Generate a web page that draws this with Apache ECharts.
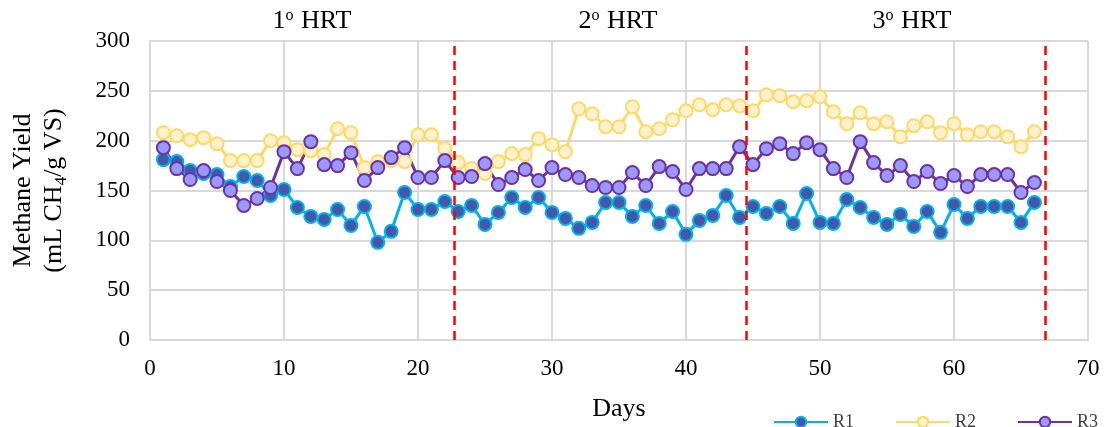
<!DOCTYPE html>
<html>
<head>
    <meta charset="utf-8">
    <title></title>
    <style>
        body{ margin: 0; background: #fff; }
        #chart{ width: 1108px; height: 427px; }
    </style>
    <script src="https://cdn.jsdelivr.net/npm/echarts@6/dist/echarts.min.js"></script>
</head>
<body>
<div id="chart"></div>
<script>
    // days 1..66
    var days = [];
    for (var d = 1; d <= 66; d++) days.push(d);

    var r1 = [181,179,170,167,166,154,164,160,145,151,133,124,121,131,115,134,98,109,148,131,
              131,139,129,135,116,128,143,133,143,128,122,112,118,138,138,124,135,117,129,106,
              120,125,145,123,134,127,134,117,147,118,117,141,133,123,116,126,114,129,108,136,
              122,134,134,134,118,138];
    var r2 = [208,205,201,203,197,180,180,180,200,198,191,190,186,212,208,173,179,180,179,206,
              206,192,178,172,167,179,187,186,202,196,189,232,227,214,214,234,209,212,221,230,
              236,231,236,235,230,246,245,239,240,244,229,217,228,217,219,204,215,219,208,217,
              206,209,209,204,194,209];
    var r3 = [193,172,161,170,159,150,135,142,153,189,172,199,176,175,188,160,173,183,193,163,
              163,180,163,164,177,156,163,171,160,173,166,163,155,153,153,168,155,174,169,151,
              172,172,172,194,176,192,197,187,198,191,172,163,199,178,165,175,159,169,157,165,
              154,166,166,166,148,158];

    var hrtLines = [22.7, 44.5, 66.8];
    var hrtNames = ['1', '2', '3'];

    var font = 'Liberation Serif, Times New Roman, serif';

    function pairs(vals){
        return vals.map(function (v, i) { return [days[i], v]; });
    }

    function mkSeries(name, vals, lineColor, fillColor){
        return {
            name: name,
            type: 'line',
            data: pairs(vals),
            symbol: 'circle',
            symbolSize: 13,
            lineStyle: { color: lineColor, width: 3 },
            itemStyle: { color: fillColor, borderColor: lineColor, borderWidth: 2 },
            emphasis: { disabled: true },
            animation: false
        };
    }

    var series = [
        mkSeries('R1', r1, '#00B0F0', '#4358A8'),
        mkSeries('R2', r2, '#FFD966', '#FFF2CC'),
        mkSeries('R3', r3, '#7030A0', '#9999FF')
    ];
    series[2].markLine = {
        silent: true,
        symbol: 'none',
        label: { show: false },
        lineStyle: { color: '#FF0000', type: [9, 6], width: 2.5 },
        data: hrtLines.map(function (x) { return { xAxis: x }; })
    };

    var hrtLabelX = [312, 618, 912];
    var graphics = hrtNames.map(function (n, i) {
        return {
            type: 'text',
            x: hrtLabelX[i],
            y: 21,
            style: {
                text: n + '{s|o} HRT',
                font: '26px ' + font,
                fill: '#000',
                align: 'center',
                verticalAlign: 'middle',
                rich: { s: { fontSize: 16, fontFamily: font, verticalAlign: 'top', padding: [0, 1, 10, 0], fill: '#000' } }
            }
        };
    });

    var option = {
        backgroundColor: '#fff',
        animation: false,
        grid: { left: 148, right: 20, top: 41, bottom: 86 },
        legend: {
            data: ['R1', 'R2', 'R3'],
            right: 5,
            top: 408,
            itemWidth: 54,
            itemHeight: 13,
            itemGap: 41,
            textStyle: { fontFamily: font, fontSize: 18, color: '#404040' }
        },
        xAxis: {
            type: 'value',
            min: 0, max: 70, interval: 10,
            name: 'Days',
            nameLocation: 'middle',
            nameGap: 56,
            nameTextStyle: { fontFamily: font, fontSize: 26, color: '#000' },
            axisLine: { show: true, lineStyle: { color: '#D9D9D9', width: 2 } },
            axisTick: { show: false },
            axisLabel: { fontFamily: font, fontSize: 23, color: '#000', margin: 17 },
            splitLine: { show: true, lineStyle: { color: '#D9D9D9', width: 2 } }
        },
        yAxis: {
            type: 'value',
            min: 0, max: 300, interval: 50,
            name: 'Methane Yield\n(mL CH{sub|4}/g VS)',
            nameLocation: 'middle',
            nameRotate: 90,
            nameGap: 80,
            nameTextStyle: {
                fontFamily: font, fontSize: 26, color: '#000', lineHeight: 31,
                rich: { sub: { fontFamily: font, fontSize: 17, color: '#000', verticalAlign: 'bottom', padding: [10, 0, 0, 0] } }
            },
            axisLine: { show: true, lineStyle: { color: '#D9D9D9', width: 2 } },
            axisTick: { show: false },
            axisLabel: { fontFamily: font, fontSize: 23, color: '#000', margin: 20 },
            splitLine: { show: true, lineStyle: { color: '#D9D9D9', width: 2 } }
        },
        graphic: graphics,
        series: series
    };

    var chart = echarts.init(document.getElementById('chart'));
    chart.setOption(option);
</script>
</body>
</html>
